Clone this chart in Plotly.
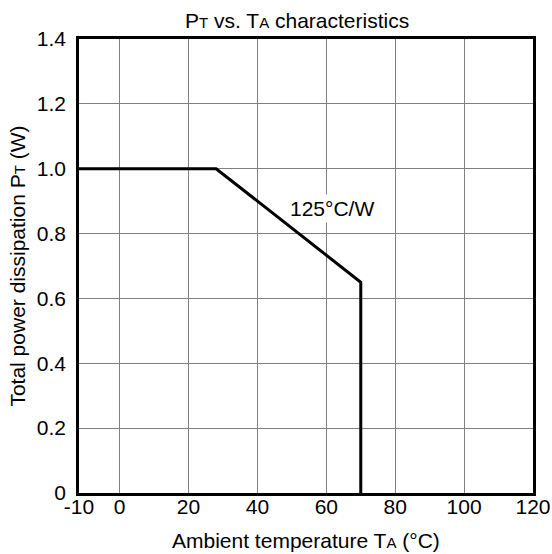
import plotly.graph_objects as go

# Axis values
x_axis_left = -11.8          # left edge of the drawn axis (labelled "-10")
x_tick_vals = [x_axis_left, 0, 20, 40, 60, 80, 100, 120]
x_tick_text = ["-10", "0", "20", "40", "60", "80", "100", "120"]
y_tick_vals = [0, 0.2, 0.4, 0.6, 0.8, 1.0, 1.2, 1.4]
y_tick_text = ["0", "0.2", "0.4", "0.6", "0.8", "1.0", "1.2", "1.4"]

# Derating curve
ambient_temp = [x_axis_left, 28.0, 70, 70]
power_w = [1.0, 1.0, 0.65, 0.0]

slope_label = "125°C/W"
slope_label_pos = (61.6, 0.876)

FONT = "Liberation Sans, Arial, sans-serif"
FS = 21

fig = go.Figure()
fig.add_trace(go.Scatter(
    x=ambient_temp, y=power_w, mode="lines",
    line=dict(color="black", width=3), showlegend=False, hoverinfo="skip",
))

small = lambda s: f"<span style='font-size:15px'>{s}</span>"

fig.add_annotation(x=slope_label_pos[0], y=slope_label_pos[1], text=slope_label,
                   showarrow=False, bgcolor="white", font=dict(size=FS, color="black"),
                   borderpad=2)

fig.add_annotation(xref="paper", yref="paper", x=0.481, y=1.040,
                   text="P" + small("T") + " vs. T" + small("A") + " characteristics",
                   showarrow=False, font=dict(size=FS, color="black"), yanchor="middle")
fig.add_annotation(xref="paper", yref="paper", x=0.5, y=-0.1036,
                   text="Ambient temperature T" + small("A") + " (°C)",
                   showarrow=False, font=dict(size=FS, color="black"), yanchor="middle")
fig.add_annotation(xref="paper", yref="paper", x=-0.1375, y=0.5,
                   text="Total power dissipation P" + small("T") + " (W)", textangle=-90,
                   showarrow=False, font=dict(size=FS, color="black"), xanchor="center")

fig.update_xaxes(range=[x_axis_left, 120], tickvals=x_tick_vals, ticktext=x_tick_text,
                 showgrid=True, gridcolor="#808080", gridwidth=1,
                 showline=True, linecolor="black", linewidth=2.5, mirror=True,
                 ticks="", zeroline=False, tickfont=dict(size=FS, color="black"),
                 ticklabelstandoff=-7, automargin=False)
fig.update_yaxes(range=[0, 1.4], tickvals=y_tick_vals, ticktext=y_tick_text,
                 showgrid=True, gridcolor="#808080", gridwidth=1,
                 showline=True, linecolor="black", linewidth=2.5, mirror=True,
                 ticks="", zeroline=False, tickfont=dict(size=FS, color="black"),
                 ticklabelstandoff=6, automargin=False)

fig.update_layout(
    width=552, height=554,
    margin=dict(l=78.7, r=19.3, t=39.3, b=61, autoexpand=False),
    plot_bgcolor="white", paper_bgcolor="white",
    font=dict(family=FONT, color="black"),
)

fig.write_html("out.html", config={"displayModeBar": False},
               post_script="document.body.style.margin='0';document.body.style.overflow='hidden';")
